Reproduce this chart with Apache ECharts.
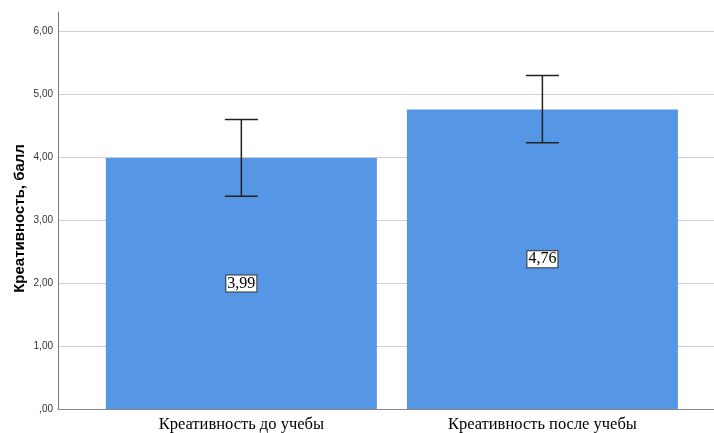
<!DOCTYPE html>
<html>
<head>
<meta charset="utf-8">
<script src="https://cdn.jsdelivr.net/npm/echarts@6/dist/echarts.min.js"></script>
<style>html,body{margin:0;padding:0;background:#fff}#c{width:714px;height:433px}</style>
</head>
<body>
<div id="c"></div>
<script>
var categories = ['Креативность до учебы', 'Креативность после учебы'];
var means = [3.99, 4.76];
var lowerCI = [3.38, 4.23];
var upperCI = [4.60, 5.30];
var yTicks = [0, 1, 2, 3, 4, 5, 6];
var valueLabels = ['3,99', '4,76'];

var barData = means.map(function (m, i) { return [i + 1, m]; });
var errData = means.map(function (m, i) { return [i + 1, lowerCI[i], upperCI[i]]; });

var chart = echarts.init(document.getElementById('c'), null, {renderer: 'canvas'});
chart.setOption({
  animation: false,
  grid: {left: 58, right: 0, top: 12, bottom: 23, containLabel: false},
  xAxis: {
    type: 'value', min: 0.391, max: 2.57,
    axisLine: {show: true, lineStyle: {color: '#888', width: 1}},
    axisTick: {show: false},
    splitLine: {show: false},
    axisLabel: {
      margin: 7,
      color: '#000',
      fontFamily: 'Liberation Serif',
      fontSize: 16.5,
      showMinLabel: false, showMaxLabel: false,
      formatter: function (v) {
        var r = Math.round(v);
        if (Math.abs(v - r) < 1e-6 && r >= 1 && r <= categories.length) return categories[r - 1];
        return '';
      }
    }
  },
  yAxis: {
    type: 'value', min: 0, max: 6.31, interval: 1,
    name: 'Креативность, балл',
    nameLocation: 'middle', nameGap: 31, nameMoveOverlap: false,
    nameTextStyle: {fontFamily: 'Liberation Sans', fontSize: 15, fontWeight: 'bold', color: '#000', padding: [0, 16, 0, 0]},
    axisLine: {show: true, lineStyle: {color: '#777', width: 1}},
    axisTick: {show: false},
    splitLine: {show: true, showMaxLine: false, showMinLine: false, lineStyle: {color: '#cfcfcf', width: 1}},
    axisLabel: {
      margin: 5, color: '#333', fontFamily: 'Liberation Sans', fontSize: 10,
      showMaxLabel: false,
      formatter: function (v) {
        if (yTicks.indexOf(Math.round(v * 1000) / 1000) < 0) return '';
        var s = v.toFixed(2).replace('.', ',');
        if (s.indexOf('0,') === 0) s = s.substring(1);
        return s;
      }
    }
  },
  series: [
    {
      type: 'bar', data: barData, barWidth: 271,
      itemStyle: {color: '#5596e5'},
      label: {
        show: true, position: 'inside',
        formatter: function (p) { return valueLabels[p.dataIndex]; },
        fontFamily: 'Liberation Serif', fontSize: 16, color: '#000',
        backgroundColor: '#fff', borderColor: '#333', borderWidth: 1,
        padding: [0, 1, 0, 1]
      },
      z: 2
    },
    {
      type: 'custom', data: errData, z: 5,
      renderItem: function (params, api) {
        var x = api.value(0);
        var lo = api.coord([x, api.value(1)]);
        var hi = api.coord([x, api.value(2)]);
        var hw = 16.5;
        var st = {stroke: '#222', lineWidth: 1.5};
        return {type: 'group', children: [
          {type: 'line', shape: {x1: lo[0], y1: lo[1], x2: hi[0], y2: hi[1]}, style: st},
          {type: 'line', shape: {x1: hi[0] - hw, y1: hi[1], x2: hi[0] + hw, y2: hi[1]}, style: st},
          {type: 'line', shape: {x1: lo[0] - hw, y1: lo[1], x2: lo[0] + hw, y2: lo[1]}, style: st}
        ]};
      }
    }
  ]
});
</script>
</body>
</html>
